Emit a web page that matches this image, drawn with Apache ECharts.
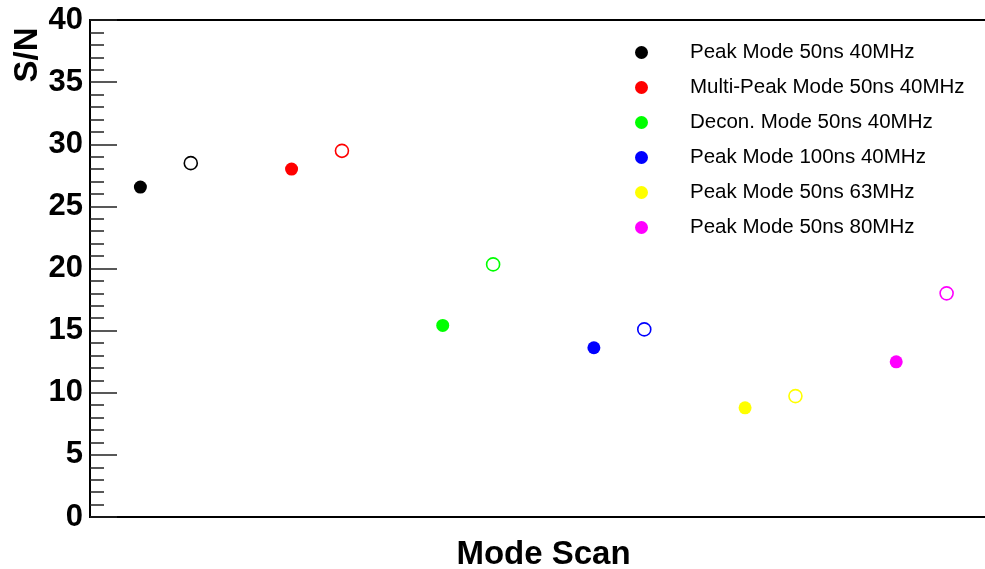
<!DOCTYPE html>
<html>
<head>
<meta charset="utf-8">
<script src="https://cdn.jsdelivr.net/npm/echarts@6/dist/echarts.min.js"></script>
<style>
html,body{margin:0;padding:0;background:#fff;}
#chart{width:985px;height:569px;}
</style>
</head>
<body>
<div id="chart"></div>
<script>
// ---- data ----
const seriesNames = [
  'Peak Mode 50ns 40MHz',
  'Multi-Peak Mode 50ns 40MHz',
  'Decon. Mode 50ns 40MHz',
  'Peak Mode 100ns 40MHz',
  'Peak Mode 50ns 63MHz',
  'Peak Mode 50ns 80MHz'
];
const filledX = [1, 4, 7, 10, 13, 16];
const filledSN = [26.55, 28.0, 15.42, 13.62, 8.79, 12.49];
const hollowX = [2, 5, 8, 11, 14, 17];
const hollowSN = [28.48, 29.47, 20.33, 15.10, 9.73, 18.0];
const yTicks = [0, 5, 10, 15, 20, 25, 30, 35, 40];

// ---- style ----
const colors = ['#000000', '#ff0000', '#00ff00', '#0000ff', '#ffff00', '#ff00ff'];
const FONT = '"Liberation Sans", Arial, Helvetica, sans-serif';

const series = seriesNames.map((name, i) => ({
  name: name,
  type: 'scatter',
  symbol: 'circle',
  symbolSize: 13,
  itemStyle: { color: colors[i], opacity: 1 },
  data: [
    { value: [filledX[i], filledSN[i]] },
    { value: [hollowX[i], hollowSN[i]],
      itemStyle: { color: 'rgba(255,255,255,0)', borderColor: colors[i], borderWidth: 1.6, opacity: 1 } }
  ],
  z: 3
}));

const chart = echarts.init(document.getElementById('chart'), null, { renderer: 'canvas' });
chart.setOption({
  backgroundColor: '#ffffff',
  animation: false,
  textStyle: { fontFamily: FONT },
  grid: {
    left: 90, top: 20, width: 907, height: 497,
    outerBoundsMode: 'none',
    containLabel: false,
    show: true, borderColor: '#000', borderWidth: 2, backgroundColor: 'transparent'
  },
  legend: {
    orient: 'vertical',
    left: 630, top: 37,
    icon: 'circle',
    itemWidth: 13, itemHeight: 13,
    itemGap: 14,
    textStyle: { fontFamily: FONT, fontSize: 20.5, color: '#000', padding: [0, 0, 0, 37] },
    data: seriesNames
  },
  xAxis: {
    type: 'value',
    min: 0, max: 18,
    name: 'Mode Scan',
    nameLocation: 'middle',
    nameGap: 21,
    nameTextStyle: { fontFamily: FONT, fontSize: 33, fontWeight: 'bold', color: '#000' },
    axisLine: { show: true, onZero: false, lineStyle: { color: '#000', width: 2 } },
    axisTick: { show: false },
    axisLabel: { show: false },
    splitLine: { show: false }
  },
  yAxis: {
    type: 'value',
    min: yTicks[0], max: yTicks[yTicks.length - 1], interval: 5,
    axisLine: { show: true, lineStyle: { color: '#000', width: 2 } },
    axisTick: { show: true, inside: true, length: 27, lineStyle: { color: '#222', width: 1.5 } },
    minorTick: { show: true, splitNumber: 5, length: 14, lineStyle: { color: '#222', width: 1.5 } },
    axisLabel: {
      margin: 7,
      fontFamily: FONT, fontSize: 31, fontWeight: 'bold', color: '#000',
      formatter: v => yTicks.includes(v) ? String(v) : ''
    },
    splitLine: { show: false }
  },
  graphic: [{
    type: 'text',
    x: 28, y: 55,
    rotation: Math.PI / 2,
    style: {
      text: 'S/N',
      font: 'bold 33px ' + FONT,
      fill: '#000',
      textAlign: 'center',
      textVerticalAlign: 'middle'
    }
  }],
  series: series
});
</script>
</body>
</html>
